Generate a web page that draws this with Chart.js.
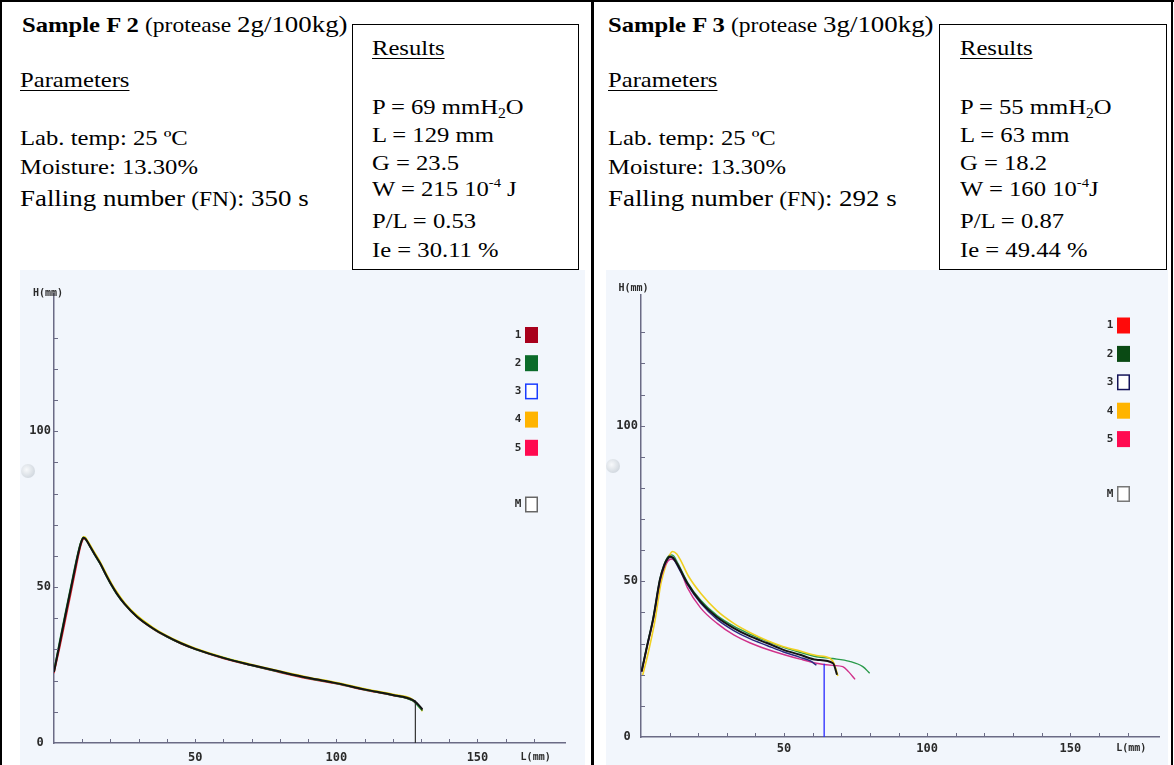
<!DOCTYPE html>
<html>
<head>
<meta charset="utf-8">
<script src="https://cdn.jsdelivr.net/npm/chart.js@4"></script>
<style>
  body { margin:0; width:1174px; height:765px; overflow:hidden; position:relative; background:#fff;
         font-family:"Liberation Serif","Times New Roman",serif; color:#000; }
  .t { position:absolute; white-space:nowrap; font-size:22px; line-height:24px;
       transform:scaleX(1.12); transform-origin:0 50%; z-index:3; }
  .t u { text-decoration-thickness:1px; text-underline-offset:3px; }
  .t sub { font-size:14px; vertical-align:-4px; line-height:0; }
  .t sup { font-size:13px; vertical-align:9px; line-height:0; }
  .rule { position:absolute; background:#000; z-index:4; }
  .box { position:absolute; border:1.5px solid #000; background:#fff; box-sizing:border-box; z-index:2; }
  .plot { position:absolute; background:#f2f6fc; z-index:1; }
  .plot canvas { display:block; }
  .dot { position:absolute; width:14px; height:14px; border-radius:50%; z-index:2;
         background:radial-gradient(circle at 40% 40%, #f7f9fb, #c4ccd5); }
</style>
</head>
<body>

<!-- table frame -->
<div class="rule" style="left:0;top:0;width:1174px;height:2px"></div>
<div class="rule" style="left:0;top:0;width:2px;height:765px"></div>
<div class="rule" style="left:591px;top:0;width:3px;height:765px"></div>
<div class="rule" style="left:1171px;top:0;width:2px;height:765px"></div>

<!-- Sample F 2 -->
<div class="t" style="left:22px;top:12px"><b>Sample F 2</b> <span style="font-size:21px">(protease </span><span style="font-size:24px">2g/100kg)</span></div>
<div class="t" style="left:20px;top:68px"><u>Parameters</u></div>
<div class="t" style="left:20px;top:126px">Lab. temp: 25 ºC</div>
<div class="t" style="left:20px;top:155px">Moisture: 13.30%</div>
<div class="t" style="left:20px;top:186px"><span style="font-size:24px">Falling number</span> <span style="font-size:21px">(FN)</span><span style="font-size:24px">: 350 s</span></div>
<div class="box" style="left:352px;top:24px;width:227px;height:246px"></div>
<div class="t" style="left:372px;top:36px"><u>Results</u></div>
<div class="t" style="left:372px;top:95px">P = 69 mmH<sub>2</sub>O</div>
<div class="t" style="left:372px;top:123px">L = 129 mm</div>
<div class="t" style="left:372px;top:151px">G = 23.5</div>
<div class="t" style="left:372px;top:177px">W = 215 10<sup>-4</sup> J</div>
<div class="t" style="left:372px;top:209px">P/L = 0.53</div>
<div class="t" style="left:372px;top:238px">Ie = 30.11 %</div>

<!-- Sample F 3 -->
<div class="t" style="left:608px;top:12px"><b>Sample F 3</b> <span style="font-size:21px">(protease </span><span style="font-size:24px">3g/100kg)</span></div>
<div class="t" style="left:608px;top:68px"><u>Parameters</u></div>
<div class="t" style="left:608px;top:126px">Lab. temp: 25 ºC</div>
<div class="t" style="left:608px;top:155px">Moisture: 13.30%</div>
<div class="t" style="left:608px;top:186px"><span style="font-size:24px">Falling number</span> <span style="font-size:21px">(FN)</span><span style="font-size:24px">: 292 s</span></div>
<div class="box" style="left:939px;top:24px;width:228px;height:246px"></div>
<div class="t" style="left:960px;top:36px"><u>Results</u></div>
<div class="t" style="left:960px;top:95px">P = 55 mmH<sub>2</sub>O</div>
<div class="t" style="left:960px;top:123px">L = 63 mm</div>
<div class="t" style="left:960px;top:151px">G = 18.2</div>
<div class="t" style="left:960px;top:177px">W = 160 10<sup>-4</sup>J</div>
<div class="t" style="left:960px;top:209px">P/L = 0.87</div>
<div class="t" style="left:960px;top:238px">Ie = 49.44 %</div>

<div class="plot" style="left:20px;top:270px;width:565px;height:495px"><canvas id="ch-f2" width="565" height="495"></canvas></div>
<div class="plot" style="left:606px;top:270px;width:562px;height:495px"><canvas id="ch-f3" width="562" height="495"></canvas></div>
<div class="dot" style="left:21px;top:464px"></div>
<div class="dot" style="left:606px;top:459px"></div>

<script>
// ── data (L mm → H mm) ────────────────────────────────────────────────────
const LEGEND_KEYS = ['1', '2', '3', '4', '5', 'M'];

// Sample F2
const f2X      = [0, 2, 4, 6, 8, 9, 9.8, 10.4, 11, 11.8, 12.8, 14.5, 16.3, 18.5, 20.3, 22.2, 25, 29.3, 35, 40, 45, 50, 60, 70, 80, 90, 100, 110, 120, 127, 128.5, 130.5];
const f2Black  = [22.8, 31.8, 40.8, 49.6, 58.4, 62.4, 64.8, 65.8, 65.6, 64.6, 63, 60.4, 57.7, 53.8, 50.8, 48, 44.6, 40.6, 36.8, 34.2, 32, 30.2, 27.3, 25, 22.9, 20.9, 19.2, 17.2, 15.4, 13.8, 12.8, 10.8];
const f2Green  = [23.2, 32.6, 41.6, 50.4, 59, 62.9, 65.1, 65.9, 65.6, 64.5, 62.9, 60.2, 57.5, 53.6, 50.6, 47.8, 44.5, 40.5, 36.7, 34.1, 31.9, 30.1, 27.3, 24.9, 22.8, 20.8, 19.1, 17.1, 15.3, 13.6, 12.4, 10.4];
const f2Red    = [22.4, 30.4, 39.2, 48, 57, 61.4, 64.2, 65.4, 65.5, 64.5, 62.9, 60.3, 57.6, 53.7, 50.7, 47.9, 44.5, 40.4, 36.6, 34, 31.8, 30, 27.1, 24.8, 22.6, 20.6, 19, 17, 15.2, 13.6, 12.5, 10.5];
const f2Yellow = [22.8, 31.8, 40.8, 49.6, 58.4, 62.5, 65, 66.1, 66, 65, 63.5, 60.9, 58.2, 54.3, 51.3, 48.5, 45, 41, 37.1, 34.4, 32.2, 30.4, 27.5, 25.2, 23.1, 21.1, 19.4, 17.4, 15.6, 14, 12.6, 10.2];
const f2CutX   = [128, 128];
const f2CutY   = [0, 13.6];
const f2Legend = ['#a8001c', '#0b6b2a', null, '#ffb400', '#ff0a50', null];
const f2LegendEdge = ['#a8001c', '#0b6b2a', '#1a3cff', '#ffb400', '#ff0a50', '#666666'];

// Sample F3
const f3BlackX   = [0.2, 2, 4.3, 6.6, 8.1, 9.3, 10.1, 11.2, 13, 16.2, 20.8, 26.6, 32.4, 38.2, 44, 49.8, 55.6, 61.3, 67.1, 68.5];
const f3Black    = [21, 28.7, 38.2, 50.5, 55.2, 57.4, 58, 57.6, 55, 49.4, 43.5, 38.5, 35, 32.3, 30.2, 28, 26.4, 24.8, 23.7, 20];
const f3GreenX   = [0.2, 2, 4.3, 6.6, 8.1, 9.3, 10.4, 11.5, 13, 16.2, 20.8, 26.6, 32.4, 38.2, 44, 49.8, 55.6, 61.3, 67, 72.9, 77.5, 79.9];
const f3Green    = [21.3, 29, 38.6, 50.8, 55.5, 57.8, 58.5, 58.1, 55.6, 49.8, 44, 39, 35.6, 33, 30.8, 28.8, 27.2, 25.8, 25.2, 24.3, 22.6, 20.5];
const f3YellowX  = [0.6, 2.5, 4.8, 7, 8.8, 10, 11, 12.5, 14, 16.5, 21, 26.6, 32.4, 38.2, 44, 49.8, 55.6, 61.3, 66, 67.5, 68.8];
const f3Yellow   = [19.9, 27, 37, 49.5, 55.5, 58.4, 59.6, 58.8, 56.5, 51.8, 46, 40.5, 36.5, 33.5, 31, 29, 27.6, 26.2, 25.3, 23.5, 19.6];
const f3MagentaX = [0.3, 2, 4.3, 6.6, 8.1, 9.5, 10.5, 12, 14, 16.2, 20.8, 26.6, 32.4, 38.2, 44, 49.8, 55.6, 61.3, 67, 70.5, 72.5, 74.8];
const f3Magenta  = [21, 28.4, 37.8, 49.8, 54.4, 56.6, 57.2, 56.5, 53, 48, 41.5, 36.5, 32.8, 30.2, 28.2, 26.5, 25, 23.7, 23, 22.6, 21, 18.5];
const f3NavyX    = [0.2, 2, 4.3, 6.6, 8.1, 9.3, 10.2, 11.3, 13, 16.2, 20.8, 26.6, 32.4, 38.2, 44, 49.8, 55.6, 59, 61.3];
const f3Navy     = [21, 28.7, 38.1, 50.3, 55, 57.1, 57.7, 57.2, 54.5, 49, 43, 37.8, 34.2, 31.5, 29.4, 27.3, 25.6, 24.5, 23.1];
const f3CutX     = [64, 64];
const f3CutY     = [0, 23.5];
const f3Legend = ['#ff0a0a', '#0a4a14', null, '#ffb400', '#ff0a50', null];
const f3LegendEdge = ['#ff0a0a', '#0a4a14', '#14145a', '#ffb400', '#ff0a50', '#777777'];

const AXIS = '#6b6b85';
const MONO = '"DejaVu Sans Mono", monospace';

const pts = (xs, ys) => xs.map((x, i) => ({ x, y: ys[i] }));
const trace = (xs, ys, color, w = 1.4) => ({
  data: pts(xs, ys), borderColor: color, borderWidth: w, pointRadius: 0,
  cubicInterpolationMode: 'monotone', fill: false,
});

// inward minor ticks, axis captions and the instrument legend
const alveoPlugin = {
  id: 'alveo',
  afterDraw(chart, args, o) {
    const { ctx, chartArea: a, scales: { x, y } } = chart;
    ctx.save();
    ctx.strokeStyle = AXIS; ctx.lineWidth = 1;
    ctx.beginPath();
    x.ticks.forEach(t => {
      if (t.value > 0 && t.value % 10 === 0) {
        const px = Math.round(x.getPixelForValue(t.value)) + 0.5;
        ctx.moveTo(px, a.bottom); ctx.lineTo(px, a.bottom - 4);
      }
    });
    y.ticks.forEach(t => {
      if (t.value > 0 && t.value % 10 === 0) {
        const py = Math.round(y.getPixelForValue(t.value)) + 0.5;
        ctx.moveTo(a.left, py); ctx.lineTo(a.left + 4, py);
      }
    });
    ctx.stroke();

    ctx.fillStyle = '#2a2a2a';
    ctx.font = 'bold 10px ' + MONO;
    ctx.textAlign = 'center'; ctx.textBaseline = 'middle';
    ctx.fillText('H(mm)', a.left + o.hDx, a.top + o.hDy);
    ctx.fillText('L(mm)', x.getPixelForValue(o.lAt), a.bottom + o.lDy);

    ctx.font = 'bold 11px ' + MONO;
    LEGEND_KEYS.forEach((k, i) => {
      const cy = a.top + o.legTop + i * o.legStep + (k === 'M' ? o.legGap : 0);
      const bx = a.right + o.legDx;
      ctx.fillStyle = '#2a2a2a';
      ctx.fillText(k, bx - 7, cy);
      if (o.fills[i]) {
        ctx.fillStyle = o.fills[i];
        ctx.fillRect(bx, cy - 8, 13, 16);
      } else {
        ctx.fillStyle = '#ffffff';
        ctx.fillRect(bx, cy - 8, 13, 16);
        ctx.strokeStyle = o.edges[i]; ctx.lineWidth = 1.5;
        ctx.strokeRect(bx + 0.75, cy - 7.25, 11.5, 14.5);
      }
    });
    ctx.restore();
  }
};

function alveoChart(id, datasets, cfg) {
  return new Chart(document.getElementById(id), {
    type: 'line',
    data: { datasets },
    plugins: [alveoPlugin],
    options: {
      responsive: false, animation: false,
      layout: { padding: { left: 0, top: cfg.padTop, right: cfg.padRight, bottom: 0 } },
      plugins: { legend: { display: false }, tooltip: { enabled: false }, alveo: cfg.alveo },
      scales: {
        x: {
          type: 'linear', min: 0, max: cfg.xMax,
          afterFit: s => { s.height = cfg.xH; },
          grid: { display: false, drawTicks: false },
          border: { display: true, color: AXIS, width: 1.5 },
          ticks: { stepSize: 10, autoSkip: false, maxRotation: 0, padding: cfg.xPad,
                   color: '#2a2a2a', font: { family: MONO, size: 12, weight: 'bold' },
                   callback: v => (v > 0 && v % 50 === 0 ? v : '') },
        },
        y: {
          type: 'linear', min: 0, max: cfg.yMax,
          afterFit: s => { s.width = cfg.yW; },
          grid: { display: false, drawTicks: false },
          border: { display: true, color: AXIS, width: 1.5 },
          ticks: { stepSize: 10, autoSkip: false, padding: 3,
                   color: '#2a2a2a', font: { family: MONO, size: 12, weight: 'bold' },
                   callback: v => (v === 0 ? '0 ' : v % 50 === 0 ? v : '') },
        },
      },
    },
  });
}

// first dataset is painted on top
alveoChart('ch-f2', [
  trace(f2X, f2Black, '#141414', 2),
  trace(f2CutX, f2CutY, '#333333', 1.2),
  trace(f2X, f2Green, '#1a8a3a', 1.6),
  trace(f2X, f2Red, '#e0202a', 1.4),
  trace(f2X, f2Yellow, '#e6d200', 1.6),
], {
  xMax: 181, yMax: 144, padTop: 24, padRight: 20, xH: 22, yW: 34, xPad: 8,
  alveo: { hDx: -6, hDy: -1, lAt: 170.6, lDy: 14, legTop: 41, legStep: 28.2, legGap: 28.5, legDx: -40,
           fills: f2Legend, edges: f2LegendEdge },
});

alveoChart('ch-f3', [
  trace(f3BlackX, f3Black, '#141414', 2),
  trace(f3CutX, f3CutY, '#2a2aff', 1.3),
  trace(f3NavyX, f3Navy, '#2a2a80', 1.4),
  trace(f3MagentaX, f3Magenta, '#d0308a', 1.4),
  trace(f3YellowX, f3Yellow, '#f0d020', 1.6),
  trace(f3GreenX, f3Green, '#2a9a4a', 1.4),
], {
  xMax: 181, yMax: 142, padTop: 25, padRight: 9, xH: 28, yW: 35, xPad: 5,
  alveo: { hDx: -7.5, hDy: -7, lAt: 171.3, lDy: 11, legTop: 30.5, legStep: 28.4, legGap: 26.5, legDx: -42,
           fills: f3Legend, edges: f3LegendEdge },
});
</script>
</body>
</html>
